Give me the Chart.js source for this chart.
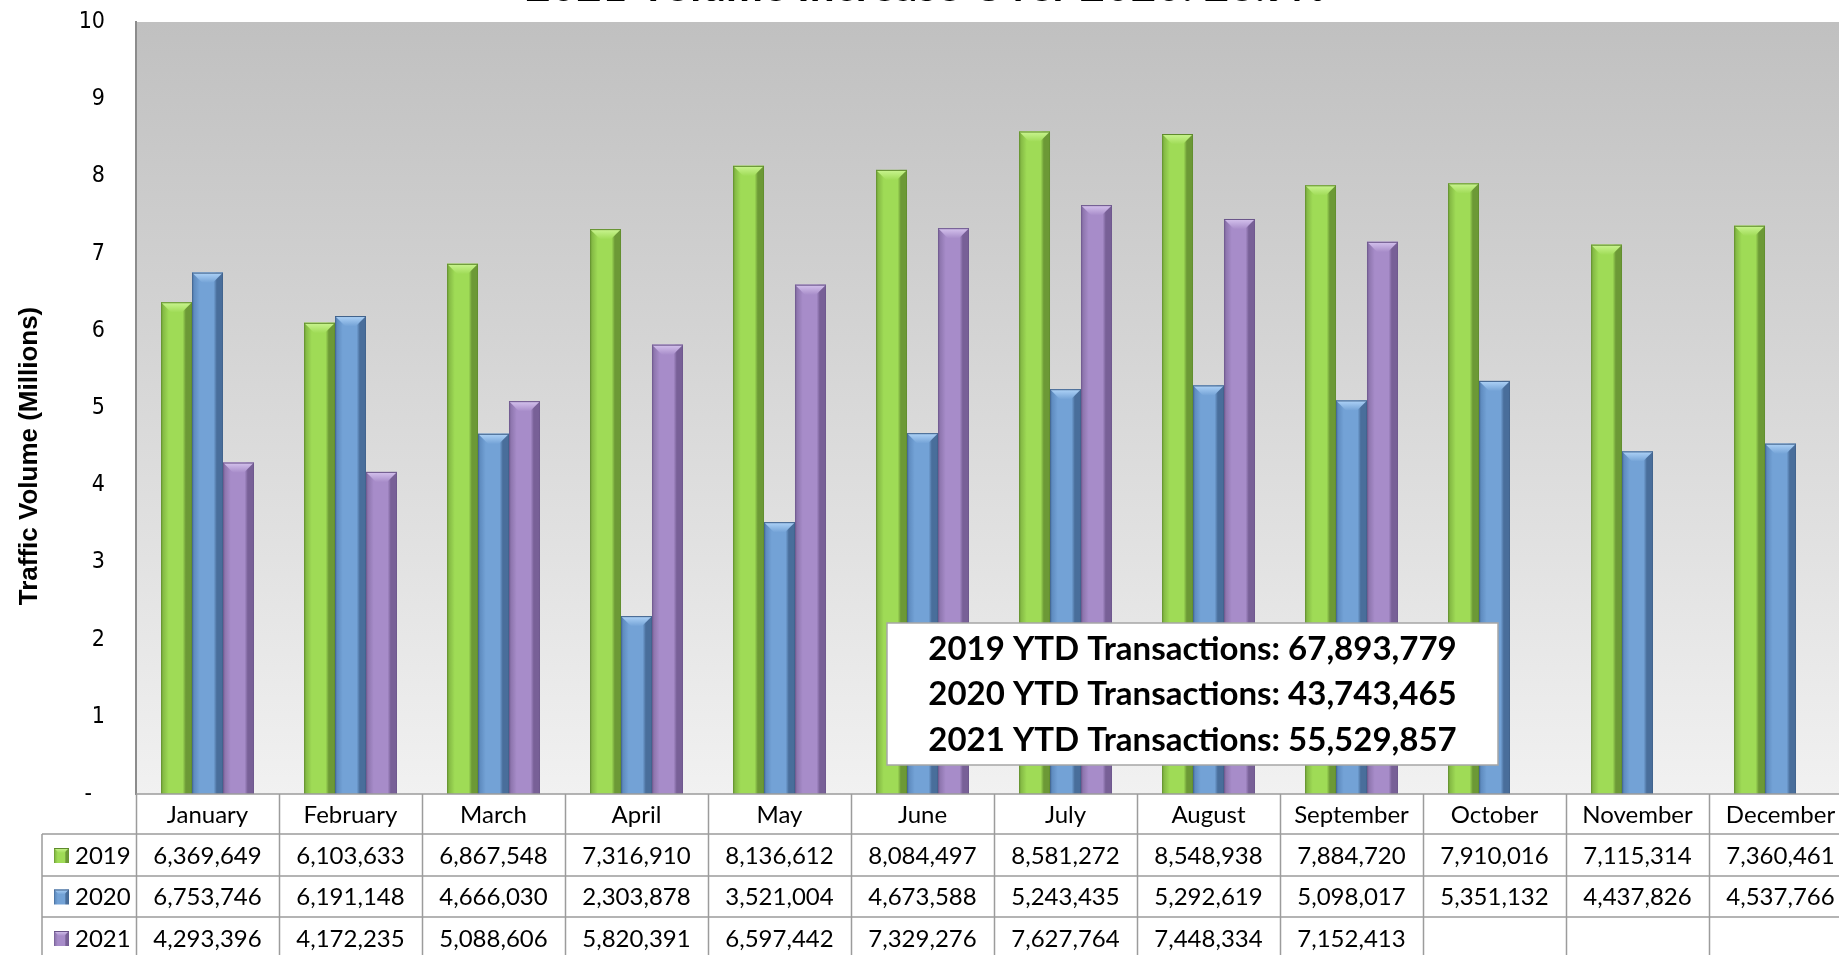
<!DOCTYPE html>
<html>
<head>
<meta charset="utf-8">
<script src="https://cdn.jsdelivr.net/npm/chart.js@4.4.1/dist/chart.umd.min.js"></script>
<style>
  html, body { margin: 0; padding: 0; background: #ffffff; overflow: hidden; width: 1839px; height: 955px; }
  #wrap { position: absolute; left: 0; top: 0; width: 1852px; height: 955px; }
</style>
</head>
<body>
<div id="wrap"><canvas id="c" width="1852" height="955"></canvas></div>
<script>
// ---------- data ----------
const months = ['January','February','March','April','May','June','July','August','September','October','November','December'];
const seriesNames = ['2019','2020','2021'];
const vol2019 = [6369649, 6103633, 6867548, 7316910, 8136612, 8084497, 8581272, 8548938, 7884720, 7910016, 7115314, 7360461];
const vol2020 = [6753746, 6191148, 4666030, 2303878, 3521004, 4673588, 5243435, 5292619, 5098017, 5351132, 4437826, 4537766];
const vol2021 = [4293396, 4172235, 5088606, 5820391, 6597442, 7329276, 7627764, 7448334, 7152413, null, null, null];
const yMin = 0, yMax = 10000000, yStep = 1000000;
const chartTitle = '2021 Volume Increase Over 2020: 26.9%';
const yTitle = 'Traffic Volume (Millions)';

// ---------- styles ----------
const palettes = [
  { left: '#84B944', mid: '#9FDB56', right: '#6C9936', top: '#CBF592', dark: '#5E8A2C' },
  { left: '#5E8BBF', mid: '#73A2D6', right: '#496E9B', top: '#B0D4F8', dark: '#3E5F88' },
  { left: '#8D75AD', mid: '#A78CC9', right: '#786097', top: '#D6C4EE', dark: '#6A5489' }
];
const seriesData = [vol2019, vol2020, vol2021];
const fmt = v => (v === null || v === undefined) ? '' : v.toLocaleString('en-US');

function bevelRect(ctx, left, top, w, h, p) {
  const g = ctx.createLinearGradient(left, 0, left + w, 0);
  g.addColorStop(0, p.dark);
  g.addColorStop(0.06, p.left);
  g.addColorStop(0.25, p.mid);
  g.addColorStop(0.7, p.mid);
  g.addColorStop(0.8, p.right);
  g.addColorStop(0.95, p.right);
  g.addColorStop(1, p.dark);
  ctx.fillStyle = g;
  ctx.fillRect(left, top, w, h);
  const d = Math.min(w * 0.33, h);
  ctx.beginPath();
  ctx.moveTo(left, top);
  ctx.lineTo(left + w, top);
  ctx.lineTo(left + w - d, top + d);
  ctx.lineTo(left + d, top + d);
  ctx.closePath();
  const tg = ctx.createLinearGradient(0, top, 0, top + d);
  tg.addColorStop(0, p.top);
  tg.addColorStop(1, p.mid);
  ctx.fillStyle = tg;
  ctx.fill();
  ctx.strokeStyle = p.dark;
  ctx.lineWidth = 1;
  ctx.beginPath();
  ctx.moveTo(left, top + 0.5);
  ctx.lineTo(left + w, top + 0.5);
  ctx.stroke();
}

const backgroundPlugin = {
  id: 'bg',
  beforeDraw(chart) {
    const { ctx, chartArea: a } = chart;
    const g = ctx.createLinearGradient(0, a.top, 0, a.bottom);
    g.addColorStop(0, '#C0C0C0');
    g.addColorStop(1, '#F1F1F1');
    ctx.save();
    ctx.fillStyle = g;
    ctx.fillRect(a.left, a.top, a.right - a.left, a.bottom - a.top);
    ctx.restore();
  }
};

const bevelPlugin = {
  id: 'bevel',
  afterDatasetsDraw(chart) {
    const ctx = chart.ctx;
    ctx.save();
    chart.data.datasets.forEach((ds, i) => {
      const meta = chart.getDatasetMeta(i);
      meta.data.forEach((el, j) => {
        if (ds.data[j] === null) return;
        const { x, y, base, width } = el.getProps(['x', 'y', 'base', 'width'], true);
        bevelRect(ctx, x - width / 2, y, width, base - y, palettes[i]);
      });
    });
    ctx.restore();
  }
};

const tablePlugin = {
  id: 'table',
  afterDraw(chart) {
    const { ctx, chartArea: a } = chart;
    const n = months.length;
    const cw = (a.right - a.left) / n;
    const rows = [a.bottom, a.bottom + 40, a.bottom + 82, a.bottom + 123, a.bottom + 165];
    const legendLeft = 42;
    ctx.save();
    ctx.strokeStyle = '#9C9C9C';
    ctx.lineWidth = 1.5;
    ctx.beginPath();
    ctx.moveTo(a.left, rows[0]); ctx.lineTo(a.right, rows[0]);
    for (let r = 1; r < 4; r++) { ctx.moveTo(legendLeft, rows[r]); ctx.lineTo(a.right, rows[r]); }
    for (let k = 0; k <= n; k++) {
      const x = Math.round(a.left + k * cw) + 0.5;
      ctx.moveTo(x, rows[0]); ctx.lineTo(x, rows[4]);
    }
    ctx.moveTo(legendLeft, rows[1]); ctx.lineTo(legendLeft, rows[4]);
    ctx.stroke();

    ctx.fillStyle = '#000';
    ctx.textAlign = 'center';
    ctx.textBaseline = 'middle';
    ctx.font = '24px Lato';
    months.forEach((m, i) => {
      const cx = chart.scales.x.getPixelForValue(i);
      ctx.fillText(m, cx, (rows[0] + rows[1]) / 2 + 1);
      seriesData.forEach((arr, s) => {
        ctx.fillText(fmt(arr[i]), cx, (rows[s + 1] + rows[s + 2]) / 2 + 1);
      });
    });
    seriesNames.forEach((name, s) => {
      const cy = (rows[s + 1] + rows[s + 2]) / 2;
      bevelRect(ctx, 54, cy - 7, 15, 15, palettes[s]);
      ctx.fillStyle = '#000';
      ctx.textAlign = 'left';
      ctx.fillText(name, 75, cy + 1);
    });
    ctx.restore();
  }
};

const annotationPlugin = {
  id: 'notes',
  afterDraw(chart) {
    const { ctx } = chart;
    ctx.save();
    ctx.fillStyle = '#000';
    ctx.font = 'bold 44px Lato';
    ctx.textAlign = 'center';
    ctx.textBaseline = 'alphabetic';
    ctx.fillText(chartTitle, chart.width / 2, 1);
    ctx.save();
    ctx.translate(30, 456);
    ctx.rotate(-Math.PI / 2);
    ctx.font = 'bold 26px "Liberation Sans"';
    ctx.textBaseline = 'middle';
    ctx.fillText(yTitle, 0, 0);
    ctx.restore();
    const n = 9;
    const sums = seriesData.map(arr => arr.slice(0, n).reduce((t, v) => t + (v || 0), 0));
    const bx = 887, by = 623, bw = 611, bh = 142;
    ctx.fillStyle = '#FFFFFF';
    ctx.fillRect(bx, by, bw, bh);
    ctx.strokeStyle = '#A6A6A6';
    ctx.lineWidth = 1.5;
    ctx.strokeRect(bx, by, bw, bh);
    ctx.fillStyle = '#000';
    ctx.font = 'bold 33px Lato';
    ctx.textAlign = 'center';
    ctx.textBaseline = 'middle';
    const lineY = [649, 694, 740];
    seriesNames.forEach((name, s) => {
      ctx.fillText(name + ' YTD Transactions: ' + fmt(sums[s]), bx + bw / 2, lineY[s]);
    });
    ctx.restore();
  }
};

new Chart(document.getElementById('c'), {
  type: 'bar',
  data: {
    labels: months,
    datasets: seriesNames.map((name, i) => ({
      label: name,
      data: seriesData[i],
      backgroundColor: palettes[i].mid,
      borderWidth: 0,
      categoryPercentage: 0.65,
      barPercentage: 1.0
    }))
  },
  options: {
    responsive: false,
    devicePixelRatio: 1,
    animation: false,
    layout: { padding: { top: 22, bottom: 161, left: 0, right: 0 } },
    plugins: { legend: { display: false }, tooltip: { enabled: false }, title: { display: false } },
    scales: {
      x: { display: false, offset: true, grid: { display: false } },
      y: {
        min: yMin, max: yMax,
        afterFit(scale) { scale.width = 136; },
        grid: { display: false, drawTicks: true, tickLength: 31 },
        border: { display: true, color: '#8C8C8C', width: 2 },
        ticks: {
          stepSize: yStep,
          padding: 0,
          color: '#000',
          font: { family: 'DejaVu Sans Condensed', size: 23 },
          callback: v => v === 0 ? '-  ' : String(v / 1000000)
        }
      }
    }
  },
  plugins: [backgroundPlugin, bevelPlugin, tablePlugin, annotationPlugin]
});
</script>
</body>
</html>
